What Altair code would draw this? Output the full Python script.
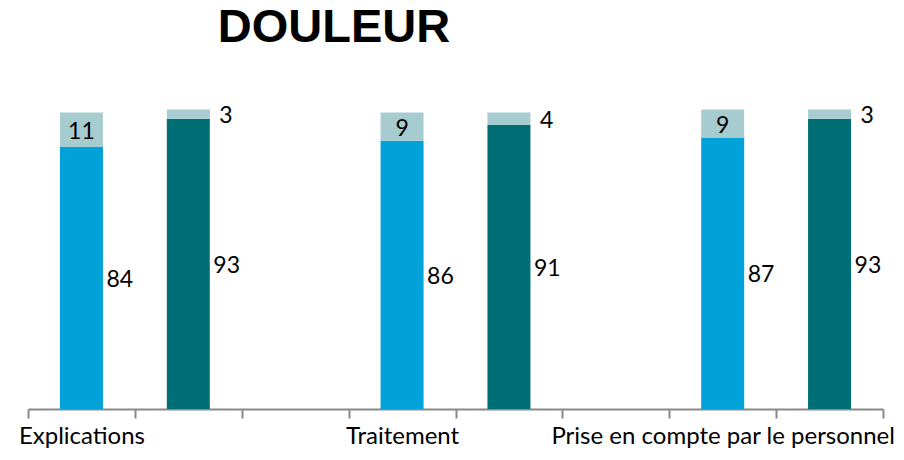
import altair as alt
import pandas as pd

# ---- data ----
categories = ["Explications", "Traitement", "Prise en compte par le personnel"]
blue_main = [84, 86, 87]
blue_top = [11, 9, 9]
teal_main = [93, 91, 93]
teal_top = [3, 4, 3]

slots = ["s0", "s1", "s2", "s3", "s4", "s5", "s6", "s7"]
blue_slots = ["s0", "s3", "s6"]
teal_slots = ["s1", "s4", "s7"]

BLUE = "#00A2D9"
TEAL = "#006F75"
LIGHT = "#A6CCD0"

bar_rows = []
main_lbl = []
top_lbl_in = []
top_lbl_out = []
for i in range(len(categories)):
    for slot, m, t, col, kind in [
        (blue_slots[i], blue_main[i], blue_top[i], BLUE, "in"),
        (teal_slots[i], teal_main[i], teal_top[i], TEAL, "out"),
    ]:
        bar_rows.append({"slot": slot, "start": 0, "end": m, "color": col})
        bar_rows.append({"slot": slot, "start": m, "end": m + t, "color": LIGHT})
        main_lbl.append({"slot": slot, "mid": m / 2, "label": str(m)})
        row = {"slot": slot, "mid": m + t / 2, "label": str(t)}
        (top_lbl_in if kind == "in" else top_lbl_out).append(row)

bars_df = pd.DataFrame(bar_rows)
main_df = pd.DataFrame(main_lbl)
tin_df = pd.DataFrame(top_lbl_in)
tout_df = pd.DataFrame(top_lbl_out)

label_expr = (
    "datum.value == 's0' ? 'Explications' : "
    "datum.value == 's3' ? 'Traitement' : "
    "datum.value == 's6' ? 'Prise en compte par le personnel' : ''"
)

FONT = "Lato"

x = alt.X(
    "slot:N",
    sort=slots,
    scale=alt.Scale(domain=slots, paddingInner=0, paddingOuter=0),
    axis=alt.Axis(
        title=None,
        labelExpr=label_expr,
        labelAngle=0,
        labelLimit=0,
        tickBand="extent",
        domainColor="#888888",
        domainWidth=2,
        tickColor="#888888",
        tickWidth=2,
        tickSize=9,
        labelFont=FONT,
        labelFontSize=24,
        labelColor="#000000",
        labelPadding=6,
        grid=False,
    ),
)
yscale = alt.Scale(domain=[0, 100])

bars = alt.Chart(bars_df).mark_bar(size=43).encode(
    x=x,
    y=alt.Y("end:Q", scale=yscale, axis=None),
    y2="start:Q",
    color=alt.Color("color:N", scale=None),
)

txt_style = dict(font=FONT, fontSize=23, color="#000000", baseline="middle", dy=2)

main_text = alt.Chart(main_df).mark_text(align="left", dx=25, **txt_style).encode(
    x=x, y=alt.Y("mid:Q", scale=yscale, axis=None), text="label:N"
)
tin_text = alt.Chart(tin_df).mark_text(align="center", **txt_style).encode(
    x=x, y=alt.Y("mid:Q", scale=yscale, axis=None), text="label:N"
)
tout_text = alt.Chart(tout_df).mark_text(align="left", dx=31, **txt_style).encode(
    x=x, y=alt.Y("mid:Q", scale=yscale, axis=None), text="label:N"
)

title_text = alt.Chart(pd.DataFrame({"t": ["DOULEUR"]})).mark_text(
    font="Liberation Sans", fontSize=47, fontWeight="bold", color="#000000",
    align="center", baseline="alphabetic"
).encode(x=alt.value(306), y=alt.value(-55), text="t:N")

chart = alt.layer(bars, main_text, tin_text, tout_text, title_text).properties(
    width=855,
    height=312,
    autosize=alt.AutoSizeParams(type="none"),
    padding={"left": 20, "top": 89, "right": 13, "bottom": 39},
).configure_view(stroke=None)

chart.save("out.html", embed_options={"renderer": "svg", "actions": False})
